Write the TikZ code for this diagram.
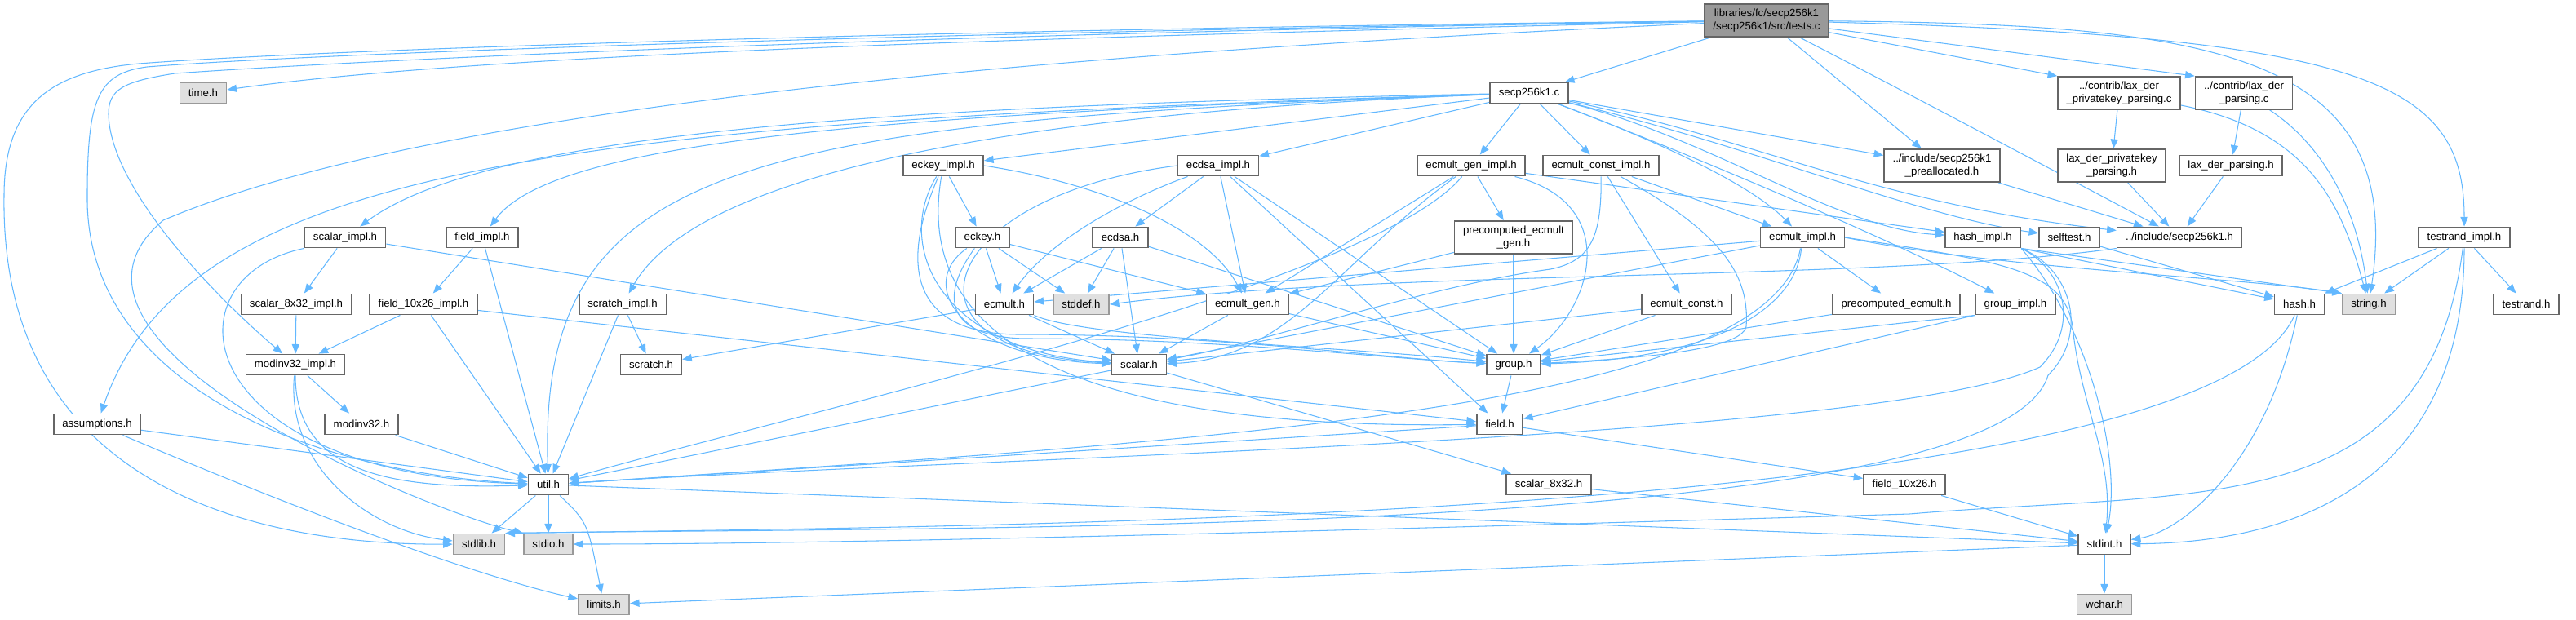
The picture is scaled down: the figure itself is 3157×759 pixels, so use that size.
\documentclass[tikz,border=0pt]{standalone}
\usepackage{fontspec}
\setmainfont{Liberation Sans}
\usepackage{tikz}
\usetikzlibrary{arrows.meta, backgrounds}
\definecolor{edgeBlue}{HTML}{63B8FF}
\definecolor{boxLine}{HTML}{666666}
\definecolor{sysFill}{HTML}{E0E0E0}
\definecolor{sysLine}{HTML}{999999}
\definecolor{mainFill}{HTML}{999999}
\newcommand{\graphfont}{\fontsize{3.77pt}{4.3pt}\selectfont}

\begin{document}
\begin{tikzpicture}[x=0.01cm, y=-0.01cm,
    hdr/.style={draw=boxLine, fill=white, line width=0.45pt, inner xsep=3pt, inner ysep=1.8pt,
        minimum height=7.2pt, align=center, font=\graphfont},
    syshdr/.style={hdr, draw=sysLine, fill=sysFill},
    mainfile/.style={hdr, fill=mainFill},
    incl/.style={draw=edgeBlue, line width=0.3pt, -{Triangle[length=3.3pt,width=2.6pt]}}]
    \useasboundingbox (0,0) rectangle (3157,759);

    \node[mainfile] (tests) at (2165,25) {libraries/fc/secp256k1\\/secp256k1/src/tests.c};
    \node[syshdr] (time) at (249,114) {time.h};
    \node[hdr] (secpc) at (1874,114) {secp256k1.c};
    \node[hdr] (laxprivc) at (2597,114) {../contrib/lax\_der\\\_privatekey\_parsing.c};
    \node[hdr] (laxc) at (2750,114) {../contrib/lax\_der\\\_parsing.c};

    \node[hdr] (eckeyimpl) at (1156,203) {eckey\_impl.h};
    \node[hdr] (ecdsaimpl) at (1493,203) {ecdsa\_impl.h};
    \node[hdr] (ecmultgenimpl) at (1803,203) {ecmult\_gen\_impl.h};
    \node[hdr] (ecmultconstimpl) at (1962,203) {ecmult\_const\_impl.h};
    \node[hdr] (prealloc) at (2380,203) {../include/secp256k1\\\_preallocated.h};
    \node[hdr] (laxprivh) at (2588,203) {lax\_der\_privatekey\\\_parsing.h};
    \node[hdr] (laxh) at (2734,203) {lax\_der\_parsing.h};

    \node[hdr] (scalarimpl) at (423,291) {scalar\_impl.h};
    \node[hdr] (fieldimpl) at (591,291) {field\_impl.h};
    \node[hdr] (eckey) at (1204,291) {eckey.h};
    \node[hdr] (ecdsa) at (1373,291) {ecdsa.h};
    \node[hdr] (precompgen) at (1855,291) {precomputed\_ecmult\\\_gen.h};
    \node[hdr] (ecmultimpl) at (2209,291) {ecmult\_impl.h};
    \node[hdr] (hashimpl) at (2430,291) {hash\_impl.h};
    \node[hdr] (selftest) at (2536,291) {selftest.h};
    \node[hdr] (secph) at (2671,291) {../include/secp256k1.h};
    \node[hdr] (testrandimpl) at (3020,291) {testrand\_impl.h};

    \node[hdr] (scalarimpleight) at (363,373) {scalar\_8x32\_impl.h};
    \node[hdr] (fieldimplten) at (519,373) {field\_10x26\_impl.h};
    \node[hdr] (scratchimpl) at (763,373) {scratch\_impl.h};
    \node[hdr] (ecmult) at (1231,373) {ecmult.h};
    \node[syshdr] (stddef) at (1325,373) {stddef.h};
    \node[hdr] (ecmultgen) at (1529,373) {ecmult\_gen.h};
    \node[hdr] (ecmultconst) at (2067,373) {ecmult\_const.h};
    \node[hdr] (precomp) at (2324,373) {precomputed\_ecmult.h};
    \node[hdr] (groupimpl) at (2470,373) {group\_impl.h};
    \node[hdr] (hash) at (2818,373) {hash.h};
    \node[syshdr] (string) at (2903,373) {string.h};
    \node[hdr] (testrand) at (3096,373) {testrand.h};

    \node[hdr] (modinvimpl) at (362,447) {modinv32\_impl.h};
    \node[hdr] (scratch) at (798,447) {scratch.h};
    \node[hdr] (scalar) at (1396,447) {scalar.h};
    \node[hdr] (group) at (1855,447) {group.h};
    \node[hdr] (assumptions) at (119,520) {assumptions.h};
    \node[hdr] (modinv) at (443,520) {modinv32.h};
    \node[hdr] (field) at (1838,520) {field.h};
    \node[hdr] (util) at (672,594) {util.h};
    \node[hdr] (scalareight) at (1898,594) {scalar\_8x32.h};
    \node[hdr] (fieldten) at (2334,594) {field\_10x26.h};
    \node[syshdr] (stdlib) at (587,667) {stdlib.h};
    \node[syshdr] (stdio) at (672,667) {stdio.h};
    \node[hdr] (stdint) at (2579,667) {stdint.h};
    \node[syshdr] (limits) at (740,741) {limits.h};
    \node[syshdr] (wchar) at (2579,741) {wchar.h};

    \begin{pgfonlayer}{background}
    % tests.c
    \draw[incl] (tests) .. controls (1300,45) and (600,65) .. (time);
    \draw[incl] (tests) .. controls (1200,35) and (400,60) .. (170,78) .. controls (60,88) and (5,130) .. (5,240) .. controls (0,590) and (300,668) .. (stdlib);
    \draw[incl] (tests) .. controls (1200,38) and (400,64) .. (180,82) .. controls (120,90) and (107,120) .. (107,240) .. controls (104,470) and (380,580) .. (util);
    \draw[incl] (tests) .. controls (1200,40) and (500,70) .. (214,90) .. controls (150,100) and (133,110) .. (133,140) .. controls (135,230) and (260,360) .. (modinvimpl);
    \draw[incl] (tests) .. controls (1400,60) and (550,120) .. (200,270) .. controls (20,420) and (520,625) .. (stdio.north west);
    \draw[incl] (tests) -- (secpc);
    \draw[incl] (tests) -- (prealloc);
    \draw[incl] (tests) .. controls (2330,110) and (2500,200) .. (secph);
    \draw[incl] (tests) -- (laxprivc.north west);
    \draw[incl] (tests) -- (laxc.north west);
    \draw[incl] (tests) .. controls (2700,30) and (2950,60) .. (string);
    \draw[incl] (tests) .. controls (2900,45) and (3020,100) .. (testrandimpl);

    % secp256k1.c
    \draw[incl] (secpc) -- (ecmultgenimpl);
    \draw[incl] (secpc) -- (ecmultconstimpl);
    \draw[incl] (secpc) .. controls (2050,180) and (2150,230) .. (ecmultimpl);
    \draw[incl] (secpc) -- (prealloc);
    \draw[incl] (secpc) .. controls (2150,170) and (2300,250) .. (secph);
    \draw[incl] (secpc) .. controls (2100,170) and (2250,280) .. (hashimpl);
    \draw[incl] (secpc) .. controls (2150,180) and (2350,265) .. (selftest);
    \draw[incl] (secpc) .. controls (2100,200) and (2330,300) .. (groupimpl);
    \draw[incl] (secpc) -- (eckeyimpl);
    \draw[incl] (secpc) -- (ecdsaimpl);
    \draw[incl] (secpc) .. controls (1100,130) and (600,160) .. (scalarimpl);
    \draw[incl] (secpc) .. controls (1100,140) and (680,170) .. (fieldimpl);
    \draw[incl] (secpc) .. controls (1200,140) and (850,220) .. (scratchimpl);
    \draw[incl] (secpc) .. controls (900,150) and (660,200) .. (util);
    \draw[incl] (secpc) .. controls (700,150) and (230,200) .. (assumptions);

    % left part
    \draw[incl] (scalarimpl) -- (scalarimpleight);
    \draw[incl] (scalarimpl) -- (scalar);
    \draw[incl] (scalarimpl.south west) .. controls (200,340) and (230,580) .. (util);
    \draw[incl] (fieldimpl) -- (fieldimplten);
    \draw[incl] (fieldimpl) -- (util);
    \draw[incl] (scalarimpleight) -- (modinvimpl);
    \draw[incl] (fieldimplten) -- (modinvimpl);
    \draw[incl] (fieldimplten) -- (util);
    \draw[incl] (fieldimplten) -- (field);
    \draw[incl] (scratchimpl) -- (scratch);
    \draw[incl] (scratchimpl) -- (util);
    \draw[incl] (modinvimpl) -- (modinv);
    \draw[incl] (modinvimpl) .. controls (362,580) and (480,600) .. (util);
    \draw[incl] (modinvimpl) .. controls (350,570) and (450,650) .. (stdlib);
    \draw[incl] (modinv) -- (util);
    \draw[incl] (assumptions) -- (util);
    \draw[incl] (assumptions) .. controls (400,640) and (600,710) .. (limits);
    \draw[incl] (util) -- (stdlib);
    \draw[incl] (util) -- (stdio);
    \draw[incl] (util) .. controls (720,640) .. (limits);
    \draw[incl] (util) -- (stdint);

    % middle part
    \draw[incl] (eckeyimpl) -- (eckey);
    \draw[incl] (eckeyimpl) .. controls (1096,300) and (1150,430) .. (scalar);
    \draw[incl] (eckeyimpl) .. controls (1110,470) and (1450,525) .. (field);
    \draw[incl] (eckeyimpl) .. controls (1100,330) and (1120,410) .. (1250,410) .. controls (1500,410) and (1700,440) .. (group);
    \draw[incl] (eckeyimpl.east) .. controls (1350,225) and (1480,280) .. (ecmultgen);
    \draw[incl] (eckey) -- (ecmult);
    \draw[incl] (eckey) -- (stddef);
    \draw[incl] (eckey) -- (ecmultgen);
    \draw[incl] (eckey) .. controls (1120,350) and (1180,440) .. (scalar);
    \draw[incl] (eckey) .. controls (1140,380) and (1180,415) .. (1260,415) .. controls (1500,415) and (1700,440) .. (group);
    \draw[incl] (ecdsaimpl) -- (ecdsa);
    \draw[incl] (ecdsaimpl) .. controls (1390,240) and (1290,290) .. (ecmult);
    \draw[incl] (ecdsaimpl) -- (ecmultgen);
    \draw[incl] (ecdsaimpl) -- (field);
    \draw[incl] (ecdsaimpl) -- (group);
    \draw[incl] (ecdsaimpl.west) .. controls (1150,240) and (1080,430) .. (scalar);
    \draw[incl] (ecdsa) -- (ecmult);
    \draw[incl] (ecdsa) -- (stddef);
    \draw[incl] (ecdsa) -- (scalar);
    \draw[incl] (ecdsa) -- (group);
    \draw[incl] (ecmult) -- (scratch);
    \draw[incl] (ecmult) -- (scalar);
    \draw[incl] (ecmult.south east) .. controls (1330,415) and (1650,425) .. (group);
    \draw[incl] (ecmultgen) -- (scalar);
    \draw[incl] (ecmultgen) -- (group);
    \draw[incl] (ecmultconst) -- (scalar);
    \draw[incl] (ecmultconst) -- (group);
    \draw[incl] (precomp) -- (group);
    \draw[incl] (precompgen) -- (group);
    \draw[incl] (precompgen) -- (ecmultgen);
    \draw[incl] (groupimpl.south west) -- (field);
    \draw[incl] (groupimpl.south west) -- (group);
    \draw[incl] (ecmultgenimpl) -- (ecmultgen);
    \draw[incl] (ecmultgenimpl) -- (precompgen);
    \draw[incl] (ecmultgenimpl) .. controls (1640,320) and (1580,440) .. (scalar);
    \draw[incl] (ecmultgenimpl) .. controls (1990,250) and (1950,380) .. (group);
    \draw[incl] (ecmultgenimpl) .. controls (1680,350) and (1000,500) .. (util);
    \draw[incl] (ecmultgenimpl) -- (hashimpl);
    \draw[incl] (ecmultconstimpl) -- (ecmultconst);
    \draw[incl] (ecmultconstimpl) -- (ecmultimpl);
    \draw[incl] (ecmultconstimpl) .. controls (1963,290) and (1950,320) .. (1900,330) .. controls (1750,350) and (1550,420) .. (scalar);
    \draw[incl] (ecmultconstimpl) .. controls (2100,280) and (2145,330) .. (2140,400) .. controls (2135,430) and (2000,440) .. (group);
    \draw[incl] (ecmultimpl) -- (ecmult);
    \draw[incl] (ecmultimpl) -- (precomp);
    \draw[incl] (ecmultimpl) -- (scalar);
    \draw[incl] (ecmultimpl) .. controls (2200,380) and (2100,440) .. (group);
    \draw[incl] (ecmultimpl) .. controls (2170,500) and (1500,540) .. (util);
    \draw[incl] (ecmultimpl.east) .. controls (2450,330) and (2750,340) .. (string.north west);
    \draw[incl] (ecmultimpl.east) .. controls (2450,320) and (2530,330) .. (2540,400) .. controls (2550,500) and (2590,560) .. (stdint);
    \draw[incl] (scalar) -- (util);
    \draw[incl] (scalar) -- (scalareight);
    \draw[incl] (field) -- (util);
    \draw[incl] (field) -- (fieldten);
    \draw[incl] (group) -- (field);
    \draw[incl] (scalareight) -- (stdint);
    \draw[incl] (fieldten) -- (stdint);
    \draw[incl] (stdint) -- (wchar);
    \draw[incl] (stdint) -- (limits);

    % right part
    \draw[incl] (hashimpl.south east) -- (hash);
    \draw[incl] (hashimpl.south east) -- (string.north west);
    \draw[incl] (hashimpl.south east) .. controls (2530,330) and (2550,400) .. (2500,450) .. controls (2300,540) and (1200,560) .. (util);
    \draw[incl] (hashimpl.south east) .. controls (2540,330) and (2560,410) .. (2510,460) .. controls (2450,660) and (1200,645) .. (stdlib.north east);
    \draw[incl] (hashimpl.south east) .. controls (2560,400) and (2600,560) .. (stdint);
    \draw[incl] (selftest) -- (hash);
    \draw[incl] (hash) .. controls (2700,640) and (1200,645) .. (stdlib.north east);
    \draw[incl] (hash) .. controls (2780,560) and (2680,650) .. (stdint);
    \draw[incl] (secph.south west) .. controls (2300,345) and (1700,330) .. (stddef.east);
    \draw[incl] (prealloc) -- (secph);
    \draw[incl] (laxprivh) -- (secph);
    \draw[incl] (laxh) -- (secph);
    \draw[incl] (laxprivc) -- (laxprivh);
    \draw[incl] (laxc) -- (laxh);
    \draw[incl] (laxprivc) .. controls (2830,160) and (2870,250) .. (string);
    \draw[incl] (laxc) .. controls (2850,180) and (2890,260) .. (string);
    \draw[incl] (testrandimpl) -- (testrand);
    \draw[incl] (testrandimpl) -- (string);
    \draw[incl] (testrandimpl) -- (hash.north east);
    \draw[incl] (testrandimpl) .. controls (3020,600) and (2800,665) .. (stdint);
    \draw[incl] (testrandimpl) .. controls (2975,640) and (2700,600) .. (2340,630) .. controls (1500,655) and (1000,667) .. (stdio);
    \end{pgfonlayer}
\end{tikzpicture}
\end{document}
